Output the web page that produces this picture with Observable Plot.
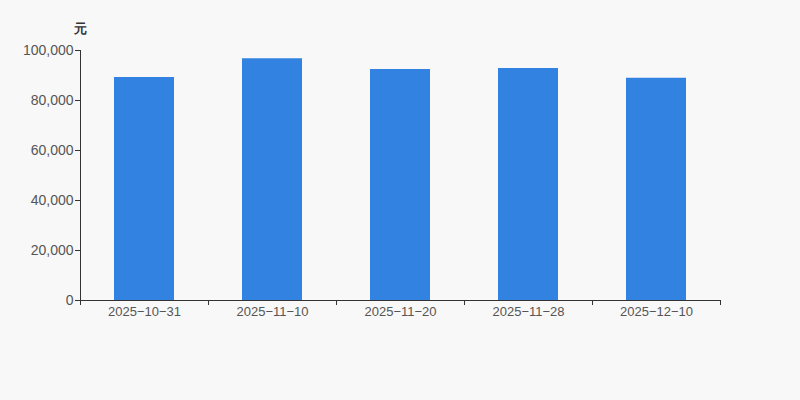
<!DOCTYPE html>
<html>
<head>
<meta charset="utf-8">
<script src="https://cdn.jsdelivr.net/npm/d3@7"></script>
<script src="https://cdn.jsdelivr.net/npm/@observablehq/plot@0.6"></script>
<style>
  html, body { margin: 0; padding: 0; background: #f8f8f8; }
  #chart { width: 800px; height: 400px; }
</style>
</head>
<body>
<div id="chart"></div>
<script>
const dates = ["2025-10-31", "2025-11-10", "2025-11-20", "2025-11-28", "2025-12-10"];
const values = [89200, 96700, 92400, 92800, 88900];
const yTicks = [0, 20000, 40000, 60000, 80000, 100000];
const unitLabel = "元";

const data = dates.map((d, i) => ({date: d, value: values[i]}));
const fmt = d3.format(",");
const textColor = "#555";
const axisColor = "#333";

const plot = Plot.plot({
  width: 800,
  height: 400,
  marginLeft: 80,
  marginRight: 80,
  marginTop: 50,
  marginBottom: 100,
  style: {background: "#f8f8f8", fontFamily: "'Liberation Sans', Arial, sans-serif", fontSize: "13px", color: textColor},
  x: {domain: dates, paddingInner: 0.53125, paddingOuter: 0.265625, align: 0.5},
  y: {domain: [0, 100000]},
  marks: [
    Plot.barY(data, {x: "date", y: "value", fill: "#3282e2"}),
    Plot.axisY({ticks: yTicks, tickFormat: fmt, tickSize: 5, tickPadding: 2, label: null, stroke: axisColor, fill: textColor, fontSize: 14}),
    Plot.frame({anchor: "left", stroke: axisColor}),
    Plot.ruleY([0], {stroke: axisColor}),
    Plot.axisX({tickSize: 0, tickPadding: 6, label: null, fill: textColor, fontSize: 13, tickFormat: d => d.replace(/-/g, "\u2212")}),
    Plot.axisX(dates, {tickSize: 5, tickFormat: () => "", label: null, dx: -64, stroke: axisColor}),
    Plot.axisX([dates[dates.length - 1]], {tickSize: 5, tickFormat: () => "", label: null, dx: 64, stroke: axisColor}),
    Plot.text([unitLabel], {frameAnchor: "top-left", textAnchor: "middle", lineAnchor: "middle", dy: -22, text: d => d, fontWeight: "bold", fill: axisColor, fontSize: 13})
  ]
});
document.getElementById("chart").appendChild(plot);
</script>
</body>
</html>
